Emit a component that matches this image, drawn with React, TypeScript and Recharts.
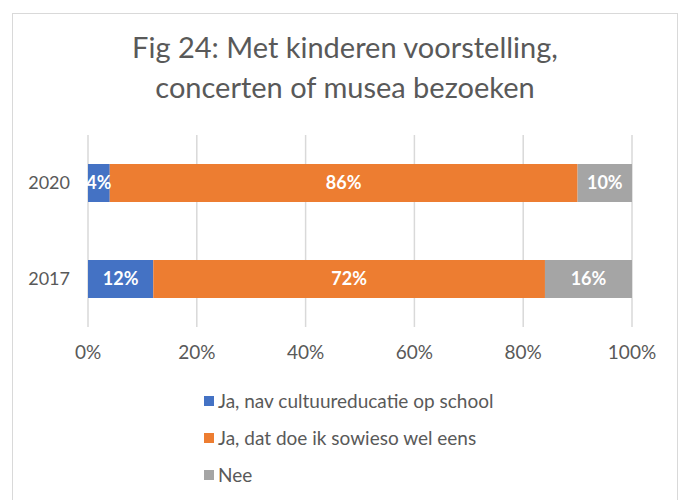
import { BarChart, Bar, XAxis, YAxis, CartesianGrid, LabelList } from 'recharts';

const years = ['2020', '2017'];
const viaSchool = [4, 12];
const anyway = [86, 72];
const nee = [10, 16];
const xTicks = [0, 20, 40, 60, 80, 100];

const seriesNames = ['Ja, nav cultuureducatie op school', 'Ja, dat doe ik sowieso wel eens', 'Nee'];
const seriesColors = ['#4472C4', '#ED7D31', '#A5A5A5'];

const data = years.map((y, i) => ({
  year: y,
  school: viaSchool[i],
  anyway: anyway[i],
  nee: nee[i],
}));

const FONT = 'Lato, "Open Sans", sans-serif';

function LegendBox() {
  return (
    <div
      style={{
        position: 'absolute',
        left: 204,
        top: 382,
        fontFamily: FONT,
        fontSize: 19,
        color: '#595959',
      }}
    >
      {seriesNames.map((name, i) => (
        <div key={name} style={{ display: 'flex', alignItems: 'center', height: 37 }}>
          <span
            style={{
              display: 'inline-block',
              width: 10,
              height: 10,
              background: seriesColors[i],
              marginRight: 4,
            }}
          />
          <span>{name}</span>
        </div>
      ))}
    </div>
  );
}

export default function App() {
  const labelStyle = { fill: '#fff', fontSize: 18, fontWeight: 700, fontFamily: FONT };
  return (
    <div style={{ position: 'fixed', left: 0, top: 0, width: 684, height: 500, background: '#fff' }}>
      <div
        style={{
          position: 'absolute',
          left: 12,
          top: 13,
          width: 666,
          height: 500,
          border: '1px solid #d9d9d9',
          boxSizing: 'border-box',
        }}
      />
      <div
        style={{
          position: 'absolute',
          left: 0,
          top: 27,
          width: 690,
          textAlign: 'center',
          fontFamily: FONT,
          fontSize: 29,
          lineHeight: '40px',
          color: '#595959',
        }}
      >
        Fig 24: Met kinderen voorstelling,
        <br />
        concerten of musea bezoeken
      </div>
      <BarChart
        width={684}
        height={500}
        layout="vertical"
        data={data}
        margin={{ top: 135, right: 52, bottom: 133, left: 0 }}
        style={{ position: 'absolute', left: 0, top: 0 }}
      >
        <CartesianGrid horizontal={false} stroke="#d9d9d9" strokeWidth={1.5} />
        <XAxis
          type="number"
          domain={[0, 100]}
          ticks={xTicks}
          tickFormatter={(v) => `${v}%`}
          axisLine={false}
          tickLine={false}
          tickMargin={13}
          height={40}
          tick={{ fill: '#595959', fontSize: 19, fontFamily: FONT }}
        />
        <YAxis
          type="category"
          dataKey="year"
          width={88}
          axisLine={false}
          tickLine={false}
          tickMargin={12}
          tick={{ fill: '#595959', fontSize: 18, fontFamily: FONT }}
        />
        <Bar dataKey="school" stackId="a" fill={seriesColors[0]} barSize={38} isAnimationActive={false}>
          <LabelList dataKey="school" position="center" formatter={(v: any) => `${v}%`} style={labelStyle} />
        </Bar>
        <Bar dataKey="anyway" stackId="a" fill={seriesColors[1]} barSize={38} isAnimationActive={false}>
          <LabelList dataKey="anyway" position="center" formatter={(v: any) => `${v}%`} style={labelStyle} />
        </Bar>
        <Bar dataKey="nee" stackId="a" fill={seriesColors[2]} barSize={38} isAnimationActive={false}>
          <LabelList dataKey="nee" position="center" formatter={(v: any) => `${v}%`} style={labelStyle} />
        </Bar>
      </BarChart>
      <LegendBox />
    </div>
  );
}
